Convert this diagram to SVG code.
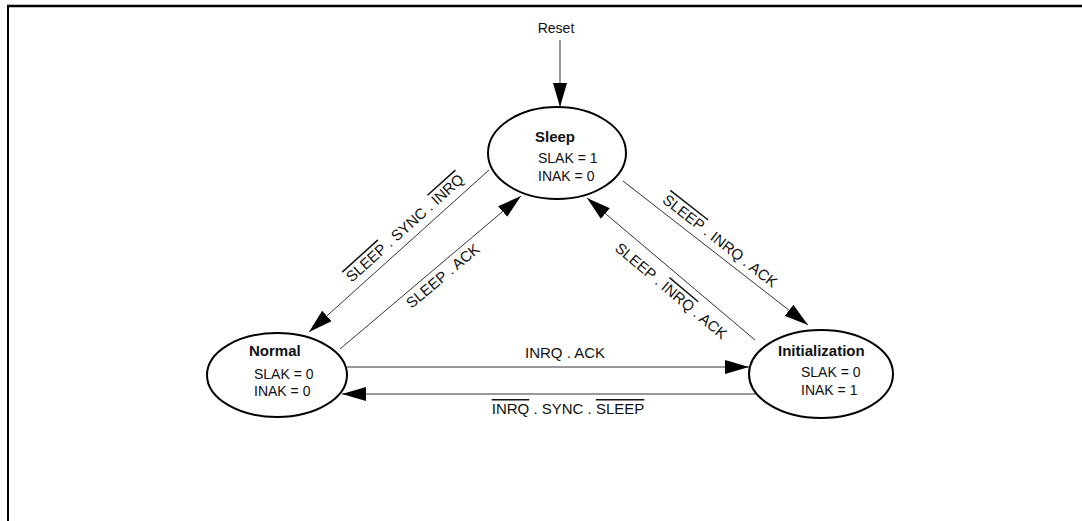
<svg xmlns="http://www.w3.org/2000/svg" width="1082" height="521" viewBox="0 0 1082 521">
<style>
.node{fill:#fff;stroke:#000;stroke-width:2}
.title{font-family:"Liberation Sans",Arial,sans-serif;font-weight:bold;font-size:15px;fill:#111}
.val{font-family:"Liberation Sans",Arial,sans-serif;font-size:14px;fill:#111}
.lbl{font-family:"Liberation Sans",Arial,sans-serif;font-size:15px;fill:#111}
.edge{stroke:#333;stroke-width:1;fill:none;marker-end:url(#ah)}
.ov{text-decoration:overline}
</style>
<defs>
<marker id="ah" viewBox="0 0 24 14" refX="24" refY="7" markerWidth="24" markerHeight="14" markerUnits="userSpaceOnUse" orient="auto">
<path d="M0,0 L24,7 L0,14 z" fill="#000"/>
</marker>
</defs>
<rect width="1082" height="521" fill="#fff"/>
<g id="frame">
<line x1="7" y1="6" x2="1082" y2="6" stroke="#000" stroke-width="2.5"/>
<line x1="8" y1="5" x2="8" y2="521" stroke="#000" stroke-width="2"/>
</g>
<g id="connectors">
<line class="edge" x1="560" y1="40" x2="560" y2="107"/>
<line class="edge" x1="489" y1="170" x2="309" y2="332"/>
<line class="edge" x1="340" y1="349" x2="521" y2="196"/>
<line class="edge" x1="623" y1="181" x2="808" y2="325"/>
<line class="edge" x1="755" y1="340" x2="587" y2="198"/>
<line class="edge" x1="347" y1="367" x2="749" y2="367"/>
<line class="edge" x1="757" y1="394" x2="342" y2="394"/>
<text class="lbl" x="556" y="33" text-anchor="middle" style="font-size:14px">Reset</text>
<text class="lbl" transform="translate(405,228) rotate(-42)" x="0" y="5" text-anchor="middle"><tspan class="ov">SLEEP</tspan> . SYNC . <tspan class="ov">INRQ</tspan></text>
<text class="lbl" transform="translate(443,276) rotate(-40)" x="0" y="5" text-anchor="middle">SLEEP . ACK</text>
<text class="lbl" transform="translate(720,241) rotate(38)" x="0" y="5" text-anchor="middle"><tspan class="ov">SLEEP</tspan> . INRQ . ACK</text>
<text class="lbl" transform="translate(671,291) rotate(40)" x="0" y="5" text-anchor="middle">SLEEP . <tspan class="ov">INRQ</tspan> . ACK</text>
<text class="lbl" x="565" y="358" text-anchor="middle">INRQ . ACK</text>
<text class="lbl" x="568" y="414" text-anchor="middle"><tspan class="ov">INRQ</tspan> . SYNC . <tspan class="ov">SLEEP</tspan></text>
</g>
<g id="sleep">
<ellipse class="node" cx="557" cy="153" rx="69" ry="46"/>
<text class="title" x="535" y="142">Sleep</text>
<text class="val" x="538" y="163">SLAK = 1</text>
<text class="val" x="538" y="181">INAK = 0</text>
</g>
<g id="normal">
<ellipse class="node" cx="277" cy="375" rx="70" ry="42"/>
<text class="title" x="249" y="356">Normal</text>
<text class="val" x="254" y="379">SLAK = 0</text>
<text class="val" x="254" y="396">INAK = 0</text>
</g>
<g id="initialization">
<ellipse class="node" cx="821" cy="374" rx="72" ry="44"/>
<text class="title" x="778" y="356">Initialization</text>
<text class="val" x="801" y="377">SLAK = 0</text>
<text class="val" x="801" y="395">INAK = 1</text>
</g>
</svg>
